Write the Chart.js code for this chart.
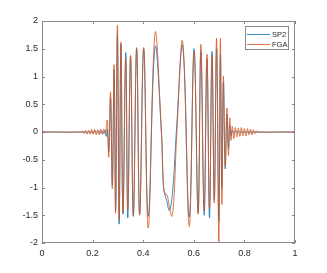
<!DOCTYPE html>
<html>
<head>
<meta charset="utf-8">
<script src="https://cdn.jsdelivr.net/npm/chart.js@4.4.1/dist/chart.umd.min.js"></script>
<style>
    html, body { margin: 0; padding: 0; background: #fff; }
    #wrap { width: 327px; height: 273px; }
</style>
</head>
<body>
<div id="wrap"><canvas id="chart" width="327" height="273"></canvas></div>
<script>
// tick values
const xTicks = [0, 0.2, 0.4, 0.6, 0.8, 1];
const yTicks = [-2, -1.5, -1, -0.5, 0, 0.5, 1, 1.5, 2];

// SP2 (blue) - [x, y] at the extrema
const sp2 = [
    [0, 0], [0.205, 0], [0.212, 0.01], [0.218, -0.01], [0.224, 0.02], [0.230, -0.02],
    [0.236, 0.02], [0.242, -0.03], [0.248, 0.03], [0.254, -0.08], [0.258, 0.05],
    [0.264, -0.35], [0.271, 0.62], [0.278, -0.95], [0.285, 1.12], [0.291, -1.42],
    [0.298, 1.75], [0.305, -1.66], [0.312, 1.58], [0.320, -1.48], [0.331, 1.43],
    [0.339, -1.55], [0.350, 1.36], [0.361, -1.52], [0.374, 1.50], [0.386, -1.48],
    [0.402, 1.50], [0.420, -1.52], [0.447, 1.53], [0.472, 0], [0.480, -0.98],
    [0.487, -1.15], [0.494, -1.25], [0.502, -1.41], [0.510, -1.32], [0.520, -0.85],
    [0.531, 0], [0.556, 1.55], [0.582, -1.53], [0.601, 1.50], [0.617, -1.45],
    [0.628, 1.45], [0.641, -1.50], [0.652, 1.32], [0.662, -1.55], [0.672, 1.45],
    [0.681, -1.22], [0.690, 1.50], [0.699, -1.60], [0.705, 1.40], [0.711, -1.0],
    [0.717, 0.9], [0.724, -0.66], [0.731, 0.32], [0.737, -0.3], [0.742, 0.12],
    [0.747, -0.06], [0.752, 0.03], [0.758, -0.02], [0.765, 0.01], [0.775, 0], [1, 0]
];

// FGA (orange)
const fga = [
    [0, 0], [0.155, 0], [0.160, 0.02], [0.166, -0.03], [0.172, 0.03], [0.178, -0.04],
    [0.184, 0.03], [0.190, -0.04], [0.196, 0.05], [0.202, -0.04], [0.208, 0.05],
    [0.214, -0.05], [0.220, 0.04], [0.226, -0.05], [0.232, 0.05], [0.238, -0.04],
    [0.244, 0.05], [0.250, -0.03], [0.258, 0.21], [0.264, -0.45], [0.271, 0.72],
    [0.278, -1.02], [0.285, 1.21], [0.291, -1.46], [0.298, 1.92], [0.305, -1.58],
    [0.312, 1.62], [0.320, -1.45], [0.331, 1.32], [0.339, -1.40], [0.350, 1.38],
    [0.361, -1.50], [0.374, 1.52], [0.386, -1.50], [0.402, 1.52], [0.420, -1.73],
    [0.447, 1.79], [0.472, 0], [0.480, -0.95], [0.487, -1.12], [0.494, -1.13],
    [0.503, -1.33], [0.513, -1.52], [0.522, -1.15], [0.533, 0], [0.556, 1.63],
    [0.582, -1.70], [0.601, 1.45], [0.617, -1.48], [0.628, 1.58], [0.641, -1.42],
    [0.652, 1.40], [0.662, -1.38], [0.672, 1.38], [0.681, -1.28], [0.690, 1.69],
    [0.699, -1.98], [0.705, 1.68], [0.711, -1.3], [0.717, 1.0], [0.724, -0.62],
    [0.731, 0.43], [0.737, -0.42], [0.742, 0.25], [0.747, -0.15], [0.752, 0.1],
    [0.758, -0.12], [0.764, 0.08], [0.770, -0.09], [0.776, 0.07], [0.782, -0.08],
    [0.788, 0.08], [0.794, -0.07], [0.800, 0.06], [0.806, -0.07], [0.812, 0.06],
    [0.818, -0.05], [0.824, 0.05], [0.830, -0.05], [0.836, 0.04], [0.842, -0.03],
    [0.848, 0.02], [0.853, 0], [1, 0]
];

const FONT = 'Liberation Sans, Arial, sans-serif';
const AXIS_COLOR = '#8a8a8a';
const TEXT_COLOR = '#262626';

// box round the axes with inward ticks on all four sides (matlab style)
const boxPlugin = {
    id: 'box',
    beforeDatasetsDraw(chart) {
        const { ctx, chartArea: a, scales } = chart;
        ctx.save();
        ctx.strokeStyle = AXIS_COLOR;
        ctx.lineWidth = 1;
        ctx.strokeRect(a.left + 0.5, a.top + 0.5, a.right - a.left - 1, a.bottom - a.top - 1);
        ctx.beginPath();
        const tl = 3;
        xTicks.forEach(v => {
            const px = Math.round(scales.x.getPixelForValue(v)) + 0.5;
            ctx.moveTo(px, a.bottom); ctx.lineTo(px, a.bottom - tl);
            ctx.moveTo(px, a.top); ctx.lineTo(px, a.top + tl);
        });
        yTicks.forEach(v => {
            const py = Math.round(scales.y.getPixelForValue(v)) + 0.5;
            ctx.moveTo(a.left, py); ctx.lineTo(a.left + tl, py);
            ctx.moveTo(a.right, py); ctx.lineTo(a.right - tl, py);
        });
        ctx.stroke();
        ctx.restore();
    }
};

// legend box inside the top right corner
const legendPlugin = {
    id: 'insideLegend',
    afterDraw(chart) {
        const ctx = chart.ctx;
        const x0 = 245, y0 = 26, w = 44, h = 24;
        ctx.save();
        ctx.fillStyle = '#fff';
        ctx.fillRect(x0, y0, w, h);
        ctx.strokeStyle = AXIS_COLOR;
        ctx.lineWidth = 1;
        ctx.strokeRect(x0 + 0.5, y0 + 0.5, w - 1, h - 1);
        ctx.font = '7.5px ' + FONT;
        ctx.textBaseline = 'middle';
        const items = [...chart.data.datasets].sort((p, q) => p.legendIndex - q.legendIndex);
        items.forEach((ds, i) => {
            const ly = y0 + 8.5 + i * 10;
            ctx.strokeStyle = ds.borderColor;
            ctx.lineWidth = 0.8;
            ctx.beginPath();
            ctx.moveTo(x0 + 2, ly);
            ctx.lineTo(x0 + 25, ly);
            ctx.stroke();
            ctx.fillStyle = TEXT_COLOR;
            ctx.fillText(ds.label, x0 + 27, ly);
        });
        ctx.restore();
    }
};

new Chart(document.getElementById('chart'), {
    type: 'line',
    data: {
        datasets: [
            {
                label: 'SP2',
                legendIndex: 0,
                order: 1,
                data: sp2.map(p => ({ x: p[0], y: p[1] })),
                borderColor: '#0072BD',
                borderWidth: 0.8,
                pointRadius: 0,
                tension: 0.4,
                fill: false
            },
            {
                label: 'FGA',
                legendIndex: 1,
                order: 0,
                data: fga.map(p => ({ x: p[0], y: p[1] })),
                borderColor: '#D95319',
                borderWidth: 0.8,
                pointRadius: 0,
                tension: 0.4,
                fill: false
            }
        ]
    },
    options: {
        responsive: false,
        animation: false,
        devicePixelRatio: 1,
        layout: { padding: { left: 0, right: 32, top: 21, bottom: 0 } },
        plugins: {
            legend: { display: false },
            tooltip: { enabled: false }
        },
        scales: {
            x: {
                type: 'linear',
                min: 0,
                max: 1,
                afterBuildTicks: s => { s.ticks = xTicks.map(v => ({ value: v })); },
                afterFit: s => { s.height = 30; },
                grid: { display: false, drawTicks: false, tickLength: 0 },
                border: { display: false },
                ticks: {
                    padding: 5,
                    maxRotation: 0,
                    color: TEXT_COLOR,
                    font: { family: FONT, size: 9 },
                    callback: v => String(v)
                }
            },
            y: {
                type: 'linear',
                min: -2,
                max: 2,
                afterBuildTicks: s => { s.ticks = yTicks.map(v => ({ value: v })); },
                afterFit: s => { s.width = 42; },
                grid: { display: false, drawTicks: false, tickLength: 0 },
                border: { display: false },
                ticks: {
                    padding: 4,
                    color: TEXT_COLOR,
                    font: { family: FONT, size: 9 },
                    callback: v => String(v)
                }
            }
        }
    },
    plugins: [boxPlugin, legendPlugin]
});
</script>
</body>
</html>
